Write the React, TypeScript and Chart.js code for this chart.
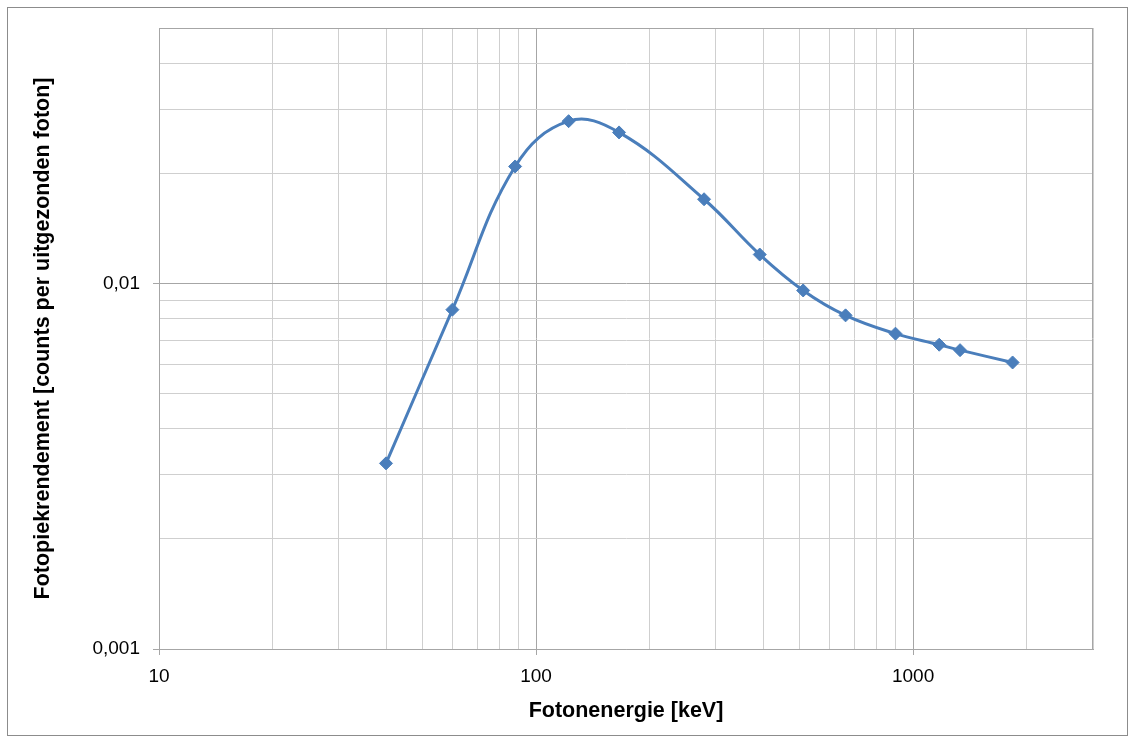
import React, { useEffect, useRef } from "react";
import { Chart, registerables } from "chart.js";

Chart.register(...registerables);

const energies = [40, 60, 88, 122, 166, 279, 392, 511, 662, 898, 1173, 1332, 1836];
const efficiencies = [0.00322, 0.00848, 0.0209, 0.0278, 0.0259, 0.0170, 0.0120, 0.00957, 0.00818, 0.00729, 0.0068, 0.00657, 0.00608];

const xTickValues = [10, 20, 30, 40, 50, 60, 70, 80, 90, 100, 200, 300, 400, 500, 600, 700, 800, 900, 1000, 2000, 3000];
const yTickValues = [0.001, 0.002, 0.003, 0.004, 0.005, 0.006, 0.007, 0.008, 0.009, 0.01, 0.02, 0.03, 0.04, 0.05];
const xLabels: Record<string, string> = { "10": "10", "100": "100", "1000": "1000" };
const yLabels: Record<string, string> = { "0.001": "0,001", "0.01": "0,01" };

const xTitle = "Fotonenergie [keV]";
const yTitle = "Fotopiekrendement [counts per uitgezonden foton]";

const isMajor = (v: number) => Math.abs(Math.log10(v) - Math.round(Math.log10(v))) < 1e-9;

export default function App() {
  const ref = useRef<HTMLCanvasElement>(null);
  useEffect(() => {
    if (!ref.current) return;
    const points = energies.map((e, i) => ({ x: e, y: efficiencies[i] }));
    const chart = new Chart(ref.current, {
      type: "scatter",
      data: {
        datasets: [
          {
            data: points,
            showLine: true,
            borderColor: "#4a7ebb",
            backgroundColor: "#4a7ebb",
            borderWidth: 3,
            tension: 0.4,
            pointStyle: "rectRot",
            pointRadius: 6.5,
            pointBorderWidth: 1,
          },
        ],
      },
      options: {
        animation: false,
        responsive: false,
        maintainAspectRatio: false,
        layout: { padding: { top: 28, right: 35, left: 0, bottom: 0 } },
        plugins: { legend: { display: false }, tooltip: { enabled: false } },
        scales: {
          x: {
            type: "logarithmic",
            min: 10,
            max: 3000,
            afterBuildTicks: (scale: any) => {
              scale.ticks = xTickValues.map((v) => ({ value: v, major: isMajor(v) }));
            },
            afterFit: (scale: any) => {
              scale.height = 87;
            },
            border: { display: true, color: "#a6a6a6", width: 1 },
            grid: {
              color: (ctx: any) => (ctx.tick && isMajor(ctx.tick.value) ? "#a6a6a6" : "#cfcfcf"),
              tickColor: (ctx: any) => (ctx.tick && isMajor(ctx.tick.value) ? "#a6a6a6" : "rgba(0,0,0,0)"),
              tickLength: 6,
              lineWidth: 1,
            },
            ticks: {
              autoSkip: false,
              maxRotation: 0,
              padding: 10,
              color: "#000",
              font: { family: "'Liberation Sans', Arial, sans-serif", size: 19 },
              callback: (v: any) => xLabels[String(v)] ?? "",
            },
            title: {
              display: true,
              text: xTitle,
              color: "#000",
              font: { family: "'Liberation Sans', Arial, sans-serif", size: 21.5, weight: "bold" },
              padding: { top: 0, bottom: 12 },
            },
          },
          y: {
            type: "logarithmic",
            min: 0.001,
            max: 0.05,
            afterBuildTicks: (scale: any) => {
              scale.ticks = yTickValues.map((v) => ({ value: v, major: isMajor(v) }));
            },
            afterFit: (scale: any) => {
              scale.width = 159;
            },
            border: { display: true, color: "#a6a6a6", width: 1 },
            grid: {
              color: (ctx: any) => (ctx.tick && isMajor(ctx.tick.value) ? "#a6a6a6" : "#cfcfcf"),
              tickColor: (ctx: any) => (ctx.tick && isMajor(ctx.tick.value) ? "#a6a6a6" : "rgba(0,0,0,0)"),
              tickLength: 6,
              lineWidth: 1,
            },
            ticks: {
              autoSkip: false,
              padding: 13,
              color: "#000",
              font: { family: "'Liberation Sans', Arial, sans-serif", size: 19 },
              callback: (v: any) => yLabels[String(v)] ?? "",
            },
            title: {
              display: true,
              text: yTitle,
              color: "#000",
              font: { family: "'Liberation Sans', Arial, sans-serif", size: 21.5, weight: "bold" },
              padding: { top: 30, bottom: 0 },
            },
          },
        },
      },
      plugins: [
        {
          id: "topRightBorder",
          afterDraw: (c: any) => {
            const { ctx, chartArea } = c;
            ctx.save();
            ctx.strokeStyle = "#a6a6a6";
            ctx.lineWidth = 1;
            ctx.beginPath();
            ctx.moveTo(chartArea.left, chartArea.top + 0.5);
            ctx.lineTo(chartArea.right, chartArea.top + 0.5);
            ctx.moveTo(chartArea.right - 0.5, chartArea.top);
            ctx.lineTo(chartArea.right - 0.5, chartArea.bottom);
            ctx.stroke();
            ctx.restore();
          },
        },
      ],
    } as any);
    return () => chart.destroy();
  }, []);
  return (
    <div style={{ position: "absolute", left: 0, top: 0, width: 1128, height: 736, background: "#fff" }}>
      <div
        style={{
          position: "absolute",
          left: 7,
          top: 7,
          width: 1121,
          height: 729,
          border: "1px solid #8c8c8c",
          boxSizing: "border-box",
        }}
      />
      <canvas ref={ref} width={1128} height={736} style={{ position: "absolute", left: 0, top: 0, display: "block" }} />
    </div>
  );
}
